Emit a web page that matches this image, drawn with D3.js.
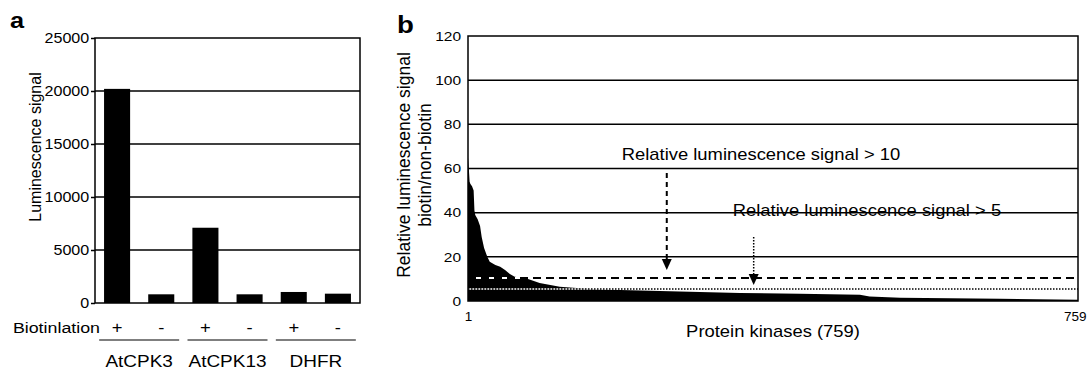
<!DOCTYPE html>
<html>
<head>
<meta charset="utf-8">
<script src="https://cdnjs.cloudflare.com/ajax/libs/d3/7.8.5/d3.min.js"></script>
<style>
  body { margin: 0; background: #fff; }
  svg { display: block; }
  text { font-family: "Liberation Sans", Arial, Helvetica, sans-serif; fill: #000; }
  .axis path.domain { display: none; }
  .axis line { stroke: #000; stroke-width: 1.5; }
  .grid line { stroke: #000; stroke-width: 1.5; }
</style>
</head>
<body>
<script>
// panel a data
var groups = ["AtCPK3", "AtCPK13", "DHFR"];
var biotin = ["+", "-"];
var signal = [20200, 820, 7100, 820, 1040, 880];   // AtCPK3+, AtCPK3-, AtCPK13+, ...
var ticksA = [0, 5000, 10000, 15000, 20000, 25000];

// panel b data: ranked ratio (biotin / non-biotin)
var rank  = [1, 2, 3, 4, 6, 8, 9, 10, 13, 16, 18, 21, 25, 28, 35, 41, 47, 53, 59, 72, 90, 115, 153, 190, 215, 264, 339, 413, 488, 500, 538, 600, 662, 759];
var ratio = [65, 60, 54, 53, 52, 50, 41, 39, 37, 34, 29, 24, 20, 17.8, 16.3, 15.5, 14, 12.2, 11, 10.4, 8.1, 6.5, 5.4, 5.0, 4.8, 4.3, 3.6, 3.3, 2.8, 2.0, 1.5, 1.2, 1.0, 0.6];
var ticksB = [0, 20, 40, 60, 80, 100, 120];
var thresholds = [10, 5];

var W = 1088, H = 370, sx = 1.15;

var svg = d3.select("body").append("svg")
    .attr("width", W)
    .attr("height", H);

// horizontal text in the figure is a bit wider than normal
function wideText(g, x, y, str, size, anchor, weight) {
  return g.append("text")
    .attr("transform", "translate(" + x + "," + y + ") scale(" + sx + ",1)")
    .attr("text-anchor", anchor || "start")
    .style("font-size", size + "px")
    .style("font-weight", weight || "normal")
    .text(str);
}

/* ---------- panel a ---------- */
var a = {left: 95, right: 360, top: 38, bottom: 303};

var barIds = [];
groups.forEach(function(g) { biotin.forEach(function(b) { barIds.push(g + b); }); });

var xA = d3.scaleBand()
    .domain(barIds)
    .range([a.left, a.right])
    .paddingInner(0.41)
    .paddingOuter(0.205);

var yA = d3.scaleLinear()
    .domain([0, 25000])
    .range([a.bottom, a.top]);

var gA = svg.append("g");

gA.append("g").attr("class", "grid")
  .selectAll("line")
  .data(ticksA.slice(1, -1))
  .enter().append("line")
    .attr("x1", a.left).attr("x2", a.right)
    .attr("y1", function(d) { return yA(d); })
    .attr("y2", function(d) { return yA(d); });

gA.selectAll("rect.bar")
  .data(signal)
  .enter().append("rect")
    .attr("class", "bar")
    .attr("x", function(d, i) { return xA(barIds[i]); })
    .attr("y", function(d) { return yA(d); })
    .attr("width", xA.bandwidth())
    .attr("height", function(d) { return yA(0) - yA(d); })
    .attr("fill", "#000");

gA.append("rect")
  .attr("x", a.left).attr("y", a.top)
  .attr("width", a.right - a.left).attr("height", a.bottom - a.top)
  .attr("fill", "none").attr("stroke", "#000").attr("stroke-width", 1.5);

var axA = gA.append("g")
  .attr("class", "axis")
  .attr("transform", "translate(" + a.left + ",0)")
  .call(d3.axisLeft(yA).tickValues(ticksA).tickSize(4).tickPadding(1).tickFormat(d3.format("d")));
axA.selectAll("text")
  .style("font-size", "14px")
  .attr("transform", "scale(" + sx + ",1)");

gA.append("text")
  .attr("transform", "translate(41,147) rotate(-90)")
  .attr("text-anchor", "middle")
  .style("font-size", "16px")
  .text("Luminescence signal");

wideText(gA, 10, 28, "a", 22, "start", "bold");

// biotinylation row
wideText(gA, 100, 333, "Biotinlation", 15.5, "end");
barIds.forEach(function(id, i) {
  wideText(gA, xA(id) + xA.bandwidth() / 2, 333, biotin[i % 2], 16, "middle");
});

groups.forEach(function(g) {
  var c = (xA(g + "+") + xA(g + "-") + xA.bandwidth()) / 2;
  gA.append("line")
    .attr("x1", c - 40).attr("x2", c + 40)
    .attr("y1", 340).attr("y2", 340)
    .attr("stroke", "#000").attr("stroke-width", 1.2);
  wideText(gA, c, 367, g, 16.5, "middle");
});

/* ---------- panel b ---------- */
var b = {left: 468, right: 1078, top: 36, bottom: 301};

var xB = d3.scaleLinear()
    .domain([1, 759])
    .range([b.left, b.right]);

var yB = d3.scaleLinear()
    .domain([0, 120])
    .range([b.bottom, b.top]);

var gB = svg.append("g");

gB.append("g").attr("class", "grid")
  .selectAll("line")
  .data(ticksB.slice(1, -1))
  .enter().append("line")
    .attr("x1", b.left).attr("x2", b.right)
    .attr("y1", function(d) { return yB(d); })
    .attr("y2", function(d) { return yB(d); });

var points = rank.map(function(r, i) { return {r: r, v: ratio[i]}; });

var area = d3.area()
    .x(function(d) { return xB(d.r); })
    .y0(yB(0))
    .y1(function(d) { return yB(d.v); });

gB.append("path")
  .datum(points)
  .attr("d", area)
  .attr("fill", "#000");

// threshold lines: white base with black dashes so they show on the black fill too
var styles = [{dash: "8,5", w: 2}, {dash: "1.5,1.5", w: 1.5}];
thresholds.forEach(function(t, i) {
  gB.append("line")
    .attr("x1", b.left).attr("x2", b.right)
    .attr("y1", yB(t) - 1).attr("y2", yB(t) - 1)
    .attr("stroke", "#fff").attr("stroke-width", styles[i].w);
  gB.append("line")
    .attr("x1", b.left).attr("x2", b.right)
    .attr("y1", yB(t) - 1).attr("y2", yB(t) - 1)
    .attr("stroke", "#000").attr("stroke-width", styles[i].w)
    .attr("stroke-dasharray", styles[i].dash);
});

gB.append("rect")
  .attr("x", b.left).attr("y", b.top)
  .attr("width", b.right - b.left).attr("height", b.bottom - b.top)
  .attr("fill", "none").attr("stroke", "#000").attr("stroke-width", 1.5);

var axB = gB.append("g")
  .attr("class", "axis")
  .attr("transform", "translate(" + b.left + ",0)")
  .call(d3.axisLeft(yB).tickValues(ticksB).tickSize(0).tickPadding(6));
axB.selectAll("text")
  .style("font-size", "13.5px")
  .attr("transform", "scale(" + sx + ",1)");

var axBx = gB.append("g")
  .attr("class", "axis")
  .attr("transform", "translate(0," + b.bottom + ")")
  .call(d3.axisBottom(xB).tickValues([1, 759]).tickSize(0).tickPadding(10));
axBx.selectAll("text")
  .style("font-size", "13.5px")
  .attr("text-anchor", function(d) { return d === 759 ? "end" : "middle"; })
  .attr("dx", function(d) { return d === 759 ? 8 : 0; });

gB.append("text")
  .attr("transform", "translate(410,165) rotate(-90)")
  .attr("text-anchor", "middle")
  .style("font-size", "17.5px")
  .text("Relative luminescence signal");
gB.append("text")
  .attr("transform", "translate(431,165) rotate(-90)")
  .attr("text-anchor", "middle")
  .style("font-size", "17.5px")
  .text("biotin/non-biotin");

wideText(gB, 397, 33, "b", 24, "start", "bold");

wideText(gB, (b.left + b.right) / 2, 337, "Protein kinases (759)", 16, "middle");

// annotations with arrows
var notes = [
  {text: "Relative luminescence signal > 10", tr: 192, tv: 64, ar: 248, from: 58, to: 14, dash: "5,4", w: 2},
  {text: "Relative luminescence signal > 5", tr: 330, tv: 38.5, ar: 356, from: 29, to: 7.2, dash: "1.5,1.5", w: 1.5}
];
notes.forEach(function(n) {
  wideText(gB, xB(n.tr), yB(n.tv), n.text, 16, "start");
  var ax = xB(n.ar), tip = yB(n.to);
  gB.append("line")
    .attr("x1", ax).attr("x2", ax)
    .attr("y1", yB(n.from)).attr("y2", tip - 10)
    .attr("stroke", "#000").attr("stroke-width", n.w)
    .attr("stroke-dasharray", n.dash);
  gB.append("path")
    .attr("d", "M" + (ax - 5) + "," + (tip - 11) + "L" + (ax + 5) + "," + (tip - 11) + "L" + ax + "," + tip + "Z")
    .attr("fill", "#000");
});
</script>
</body>
</html>
